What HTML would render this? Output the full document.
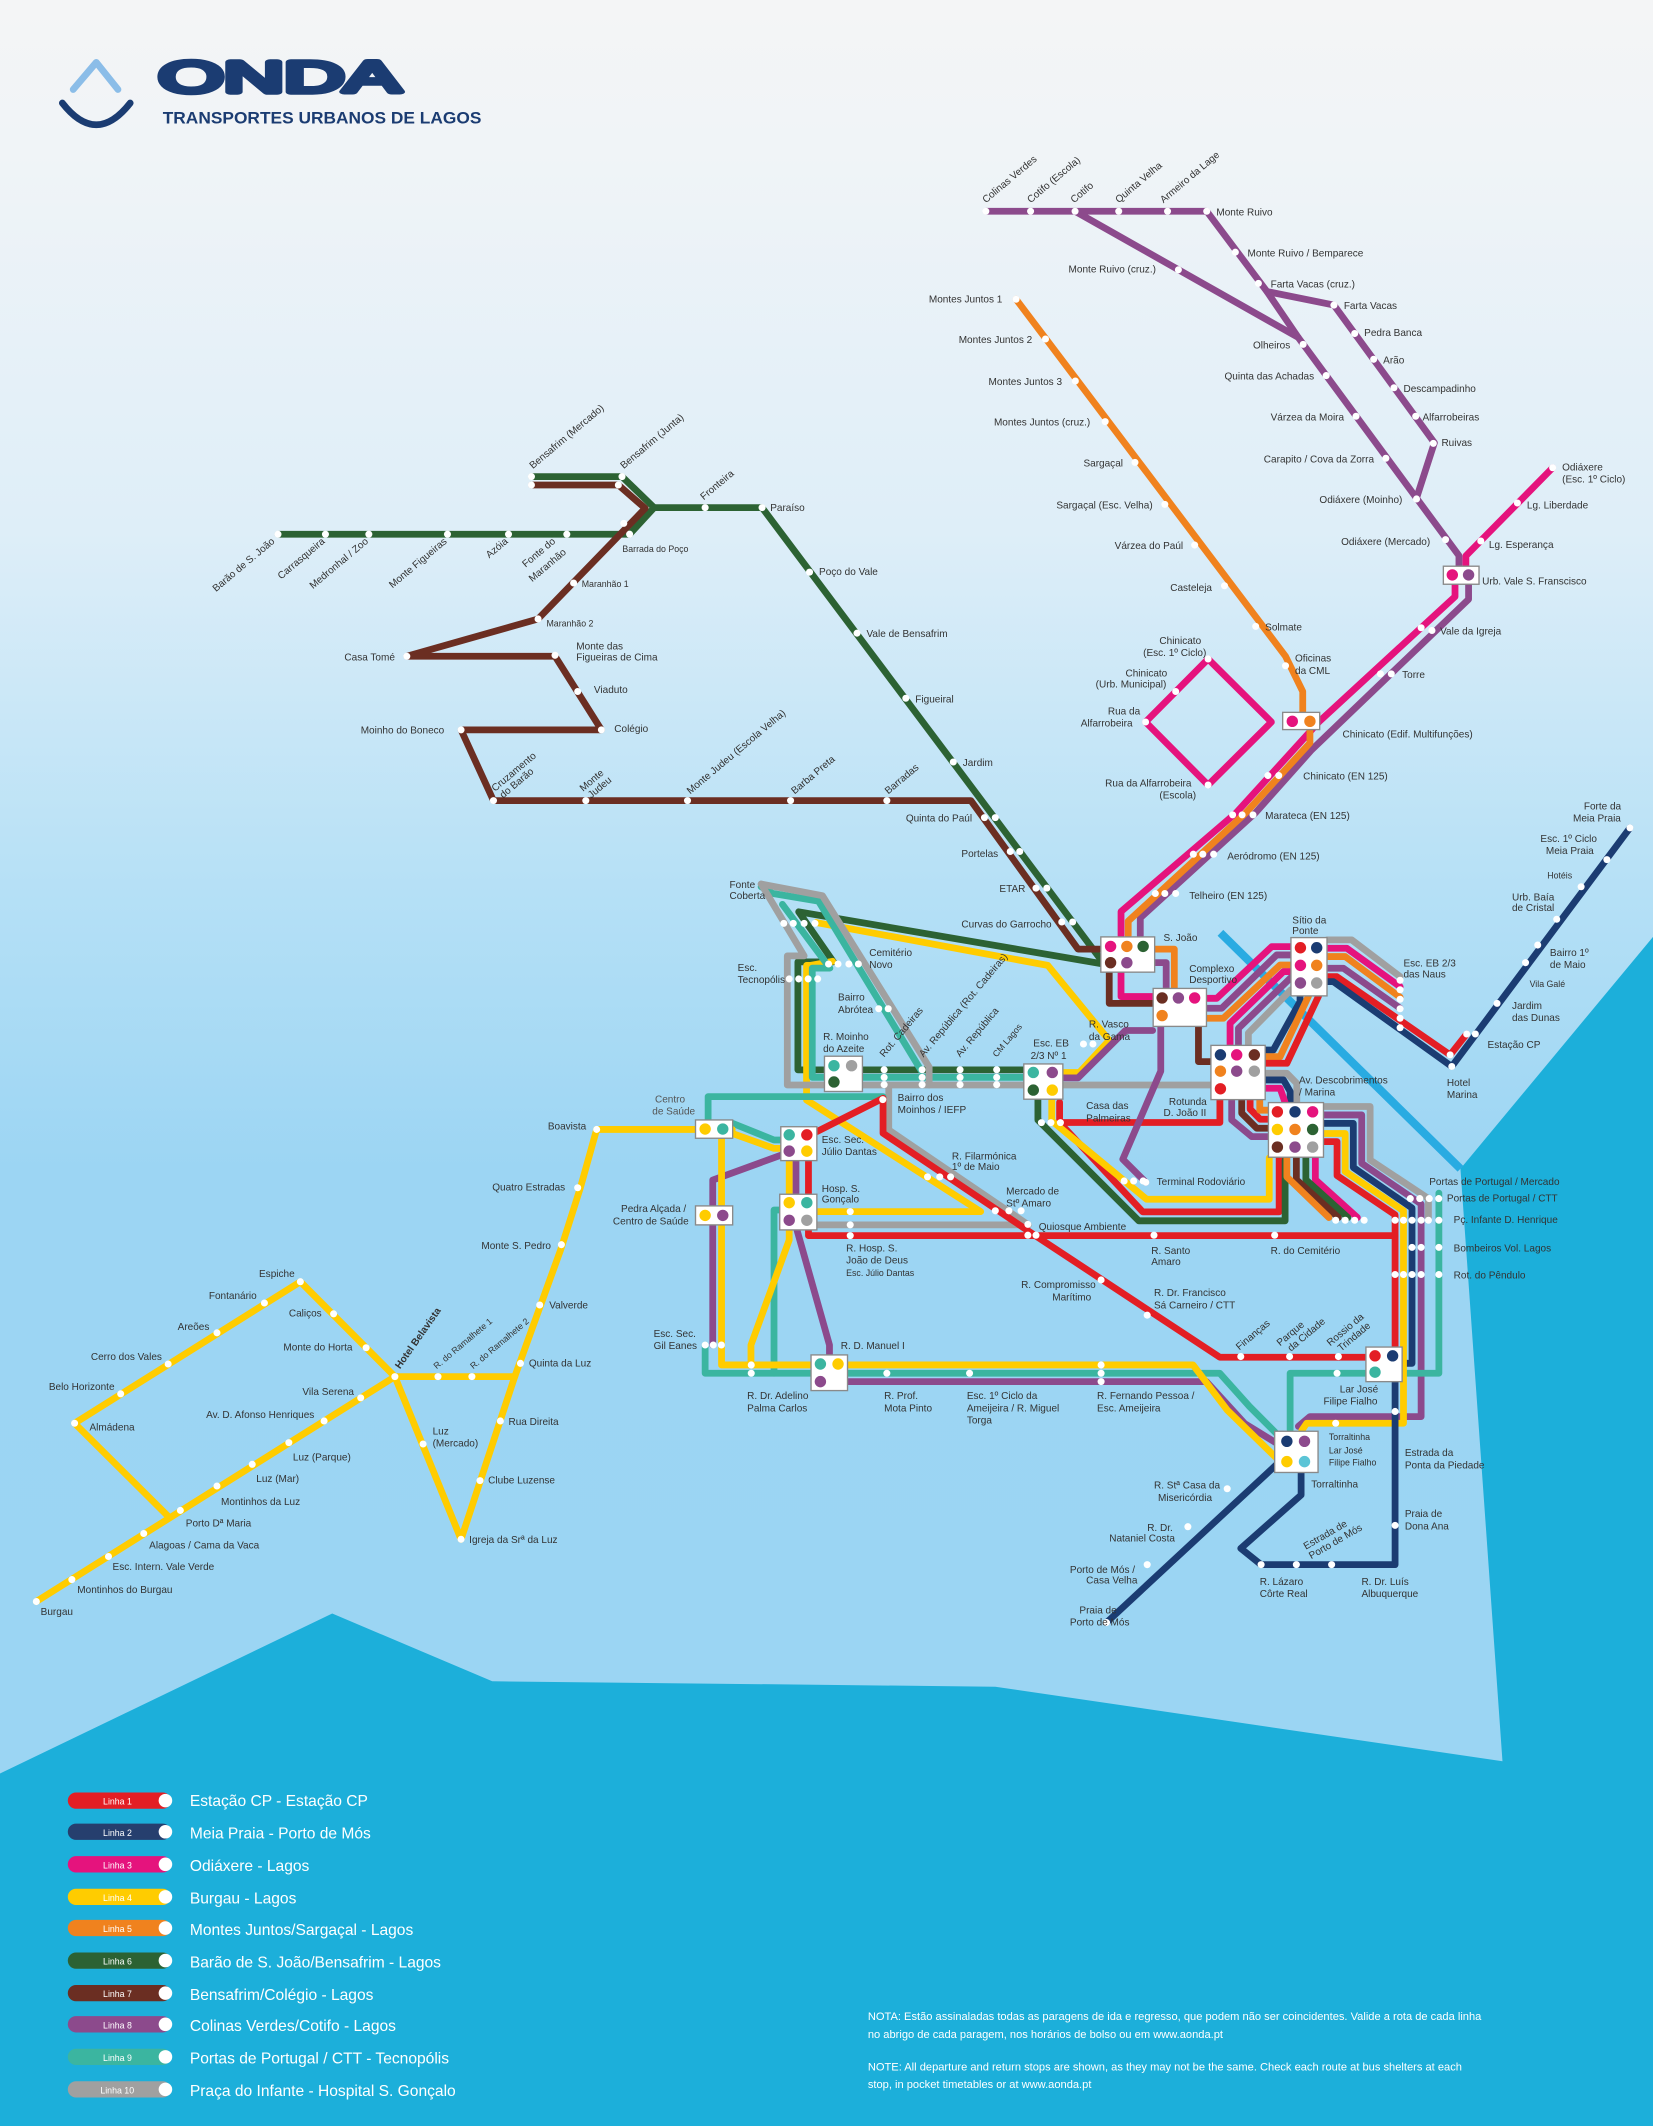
<!DOCTYPE html>
<html><head><meta charset="utf-8"><style>
html,body{margin:0;padding:0;width:1653px;height:2126px;overflow:hidden;}
svg{display:block}
.s{fill:none;stroke-width:5;stroke-linejoin:round;stroke-linecap:round}
.r{stroke:#e31e24}.n{stroke:#1b3c72}.m{stroke:#e5137d}.y{stroke:#ffcc00}.o{stroke:#f0821e}
.g{stroke:#2c6233}.b{stroke:#6b2e22}.p{stroke:#8c4a8c}.t{stroke:#3bb5a0}.e{stroke:#a0a0a0}
text{font-family:"Liberation Sans",sans-serif;font-size:7.4px;fill:#333}
.lg{font-size:11.5px;fill:#fff}
.nt{font-size:8.2px;fill:#fff}
.pl{font-size:6.5px;fill:#fff}
.dot{fill:#fff}
.bx{fill:#fff;stroke:#8a8a8a;stroke-width:1}
</style></head><body>
<svg width="1653" height="2126" viewBox="0 0 1219 1568" preserveAspectRatio="none" xmlns="http://www.w3.org/2000/svg">
<defs>
<linearGradient id="bg" x1="0" y1="0" x2="0" y2="1">
<stop offset="0" stop-color="#f4f5f6"/>
<stop offset="0.07" stop-color="#f0f4f7"/>
<stop offset="0.25" stop-color="#deeef8"/>
<stop offset="0.42" stop-color="#b5e0f6"/>
<stop offset="0.55" stop-color="#9cd5f3"/>
<stop offset="1" stop-color="#9ad5f3"/>
</linearGradient>
</defs>
<rect width="1219" height="1568" fill="url(#bg)"/>
<!-- sea -->
<polygon points="0,1308 245,1190 363,1240 734,1244 1108,1299 1077,862 1219,691 1219,1568 0,1568" fill="#1cafda"/>
<line x1="900" y1="688" x2="1077" y2="862" stroke="#29abe2" stroke-width="6"/>

<!-- logo -->
<path d="M54,66 L71,46 L87,66" fill="none" stroke="#8bbde8" stroke-width="5" stroke-linecap="round" stroke-linejoin="round"/>
<path d="M46,76 Q71,108 96,76" fill="none" stroke="#1b3c72" stroke-width="5" stroke-linecap="round"/>
<text x="117" y="68" textLength="178" lengthAdjust="spacingAndGlyphs" style="font-size:32px;fill:none;stroke:#1b3c72;stroke-width:4;stroke-linejoin:round">ONDA</text>
<text x="120" y="91" textLength="235" lengthAdjust="spacingAndGlyphs" style="font-size:12.5px;fill:#1b3c72;font-weight:bold">TRANSPORTES URBANOS DE LAGOS</text>

<!-- LINE 8 purple top -->
<path class="s p" d="M727,155.8 H889.9 L934.3,215 L957.4,248.9 L1044.6,367.4 L1075.9,409.8 V420"/>
<path class="s p" d="M792.8,155.8 L957.4,248.9"/>
<path class="s p" d="M934.3,215 L983.7,225 L1057.8,326.5 L1044.6,367.4"/>
<path class="s m" d="M1145,345 L1081,410 V420"/>
<path class="s o" d="M749.3,220.7 L948,484 L960.7,510 V526"/>
<path class="s m" d="M890.9,486 L844.8,532.5 L890.9,579 L937.6,532.5 Z"/>
<path class="s m" d="M1073,431 V440 L973,532 L911.7,599.4 L826.7,672.3 V690"/>
<path class="s p" d="M1083,431 V442 L967.3,553 L925.9,599.4 L840.9,677 V690"/>
<path class="s o" d="M966,539 V548 L918.8,599.4 L832,679.4 V690"/>

<path class="s g" d="M205,394 H464.3 L482.4,374.4 H562 L812,708"/>
<path class="s g" d="M391.9,351.5 H458.7 L482.4,374.4"/>
<path class="s b" d="M391.9,357.7 H456 L475.8,374.9 L396.8,456.5 L300,484 H409.3 L443.5,538.3 H340 L363.9,590.5 H716 L795,700 L812,700"/>

<path class="s g" d="M812,710.7 L589,672.5 L614.6,709.4 H588.4 V789.1 H755"/>
<path class="s y" d="M602,680.4 L772.7,712 L818,767.3 L796,791 H784"/>
<path class="s y" d="M614,709 L598,712 H594.8 V811.3 L723.2,893.6 H603.2"/>
<path class="s t" d="M561.3,654 L570,659 L603.6,664.6 L679.4,789.7"/>
<path class="s t" d="M577,667 L612,714 H599 V794.6 H755"/>
<path class="s e" d="M561.3,652 L606.5,660.6 L685.2,787 V800.2"/>
<path class="s e" d="M561.3,652 L593,705 H580.6 V800.2 H893"/>
<path class="s e" d="M655.4,800.2 V833.4 L758.4,903.4 H602.4"/>
<path class="s t" d="M522.2,826 V808.8 H651.2"/>
<path class="s t" d="M540.3,828.5 L570.8,840.8 H577"/>
<path class="s t" d="M576,892.4 H570.8 V1012.8"/>
<path class="s t" d="M520,991.9 V1012.8 H899.5 L921.4,1037.3 L944,1060"/>
<path class="s p" d="M576.4,851.8 L525.6,870.3 V992"/>
<path class="s p" d="M587.7,907 L611.7,992 V999"/>
<path class="s p" d="M624.4,1019 H889.7 L918,1050 L944,1066"/>
<path class="s p" d="M587,855 V880"/>
<path class="s y" d="M540,833 H440 L428,876 L413.4,921.9 L379.6,1015.3 H291.2"/>
<path class="s y" d="M540.3,836 L570.8,847 H577"/>
<path class="s y" d="M532.1,839.5 V1006.7 H879.8 L905,1040 L944,1078"/>
<path class="s y" d="M582,907 V914.5 L553.8,992 V1006.7"/>
<path class="s y" d="M582,856 V880"/>
<path class="s y" d="M26.8,1181.2 L291.2,1015.3 L221.5,945.3 L55,1049.7 L124.2,1118.5"/>
<path class="s y" d="M291.2,1015.3 L340,1135.3 L379.6,1015.3"/>
<path class="s r" d="M602.4,834.6 L651.2,810 V835.8 L762.7,910.8 L899.5,1001 H1008"/>
<path class="s r" d="M596.2,856 V911.3 H1028.8 V1000"/>
<path class="s r" d="M899.6,811 V827.9 H781.4 V813 M781.4,827.9 L842.7,893.8 H943.3 V853"/>
<path class="s y" d="M775.6,810 V826.6 L845.6,884.5 H936 V854"/>
<path class="s g" d="M765.4,810 V826 L839.8,900.4 H947.7 V855.6"/>
<path class="s p" d="M783.8,795 H795 L830,760 H850"/>
<path class="s p" d="M856,757 V790 L828,855 L845,872"/>
<path class="s m" d="M826.7,717 V735 H851"/>
<path class="s b" d="M818,717 V740 H851"/>
<path class="s o" d="M851,700 H866 V729"/>
<path class="s p" d="M851,710 H860 V729"/>
<path class="s b" d="M883.8,757.2 V783 H893"/>
<path class="s m" d="M890,736.3 H897.3 L937.8,698.2 H952"/>
<path class="s p" d="M890,743.6 H901 L941.5,704.3 H952"/>
<path class="s o" d="M890,751 H902.2 L944,711.7 H952"/>
<path class="s m" d="M907.1,770.7 V754.7 L946.5,716.6 H952"/>
<path class="s p" d="M913.3,770.7 V758.4 L952,721"/>
<path class="s e" d="M920.6,770.7 V762 L952,730"/>
<path class="s n" d="M933.2,774.4 H939 L958.7,738.7 V734"/>
<path class="s o" d="M933.2,779.3 H944 L964.9,734.8"/>
<path class="s r" d="M933.2,784.2 H949 L972.3,734.8"/>
<path class="s e" d="M978.7,693.2 H996.8 L1032.5,720.3"/>
<path class="s m" d="M978.7,699.4 H993.2 L1032.5,727.7"/>
<path class="s o" d="M978.7,705.5 H992 L1032.5,735.5"/>
<path class="s p" d="M978.7,714.1 H990.7 L1032.5,743.6"/>
<path class="s r" d="M978.7,720.3 H985.8 L1069.4,778 L1081.6,762.6"/>
<path class="s n" d="M978.7,724 H983.3 L1070.6,786.6 L1202,610.6"/>
<path class="s e" d="M933.2,791.6 H949 L956.3,799 V813.2"/>
<path class="s n" d="M933.2,796.5 H946.5 L951.4,805 V813.2"/>
<path class="s m" d="M933.2,802.6 H944 L947.7,813.2"/>
<path class="s p" d="M908.3,811.2 V826 L923.1,838.3 H935.4"/>
<path class="s b" d="M915.7,811.2 V821 L926.8,832.1 H935.4"/>
<path class="s r" d="M921.9,811.2 V818 L929.3,825.5 H935.4"/>
<path class="s o" d="M929,811.2 V818.8 H935.4"/>
<path class="s e" d="M976,816.1 H1010.4 V855.5 L1053.4,884 V900"/>
<path class="s p" d="M976,822.3 H1004.2 V858 L1048,888 V1044.8 H966 L957.5,1052"/>
<path class="s n" d="M976,828.5 H998 V861 L1041.3,891 V1005.5 H1033"/>
<path class="s t" d="M1061.1,880 V1012.8 H951.4 V1054.6"/>
<path class="s y" d="M976,836 H992 V864 L1035,893 V1049.7 H963.6 L960,1055"/>
<path class="s r" d="M976,842 H986 V867 L1028.8,896 V912"/>
<path class="s m" d="M970,853 V870 L1001,898"/>
<path class="s g" d="M963,853 V870 L994,898"/>
<path class="s b" d="M956,853 V870 L987,898"/>
<path class="s o" d="M949,853 V868 L980,898"/>
<path class="s n" d="M1028.8,1019 V1154 H930 L915,1142 L959.5,1102.6 V1086"/>
<path class="s n" d="M945,1076.8 L816,1196.7"/>

<g>
<rect class="bx" x="811.8" y="691" width="39.7" height="26"/>
<circle cx="819" cy="698" r="4.2" fill="#e5137d"/><circle cx="831" cy="698" r="4.2" fill="#f0821e"/><circle cx="843" cy="698" r="4.2" fill="#2c6233"/>
<circle cx="819" cy="710" r="4.2" fill="#6b2e22"/><circle cx="831" cy="710" r="4.2" fill="#8c4a8c"/>
<rect class="bx" x="850.4" y="729" width="39.3" height="28"/>
<circle cx="857" cy="736" r="4.2" fill="#6b2e22"/><circle cx="869" cy="736" r="4.2" fill="#8c4a8c"/><circle cx="881" cy="736" r="4.2" fill="#e5137d"/>
<circle cx="857" cy="749" r="4.2" fill="#f0821e"/>
<rect class="bx" x="893" y="771" width="40" height="40"/>
<circle cx="900" cy="778" r="4.2" fill="#1b3c72"/><circle cx="912" cy="778" r="4.2" fill="#e5137d"/><circle cx="925" cy="778" r="4.2" fill="#6b2e22"/>
<circle cx="900" cy="790" r="4.2" fill="#f0821e"/><circle cx="912" cy="790" r="4.2" fill="#8c4a8c"/><circle cx="925" cy="790" r="4.2" fill="#a0a0a0"/>
<circle cx="900" cy="803" r="4.2" fill="#e31e24"/>
<rect class="bx" x="952" y="691.5" width="26.6" height="43"/>
<circle cx="959" cy="699" r="4.2" fill="#e31e24"/><circle cx="971" cy="699" r="4.2" fill="#1b3c72"/>
<circle cx="959" cy="712" r="4.2" fill="#e5137d"/><circle cx="971" cy="712" r="4.2" fill="#f0821e"/>
<circle cx="959" cy="725" r="4.2" fill="#8c4a8c"/><circle cx="971" cy="725" r="4.2" fill="#a0a0a0"/>
<rect class="bx" x="935.4" y="813.2" width="40.6" height="40.3"/>
<circle cx="942" cy="820" r="4.2" fill="#e31e24"/><circle cx="955" cy="820" r="4.2" fill="#1b3c72"/><circle cx="968" cy="820" r="4.2" fill="#e5137d"/>
<circle cx="942" cy="833" r="4.2" fill="#ffcc00"/><circle cx="955" cy="833" r="4.2" fill="#f0821e"/><circle cx="968" cy="833" r="4.2" fill="#2c6233"/>
<circle cx="942" cy="846" r="4.2" fill="#6b2e22"/><circle cx="955" cy="846" r="4.2" fill="#8c4a8c"/><circle cx="968" cy="846" r="4.2" fill="#a0a0a0"/>
<rect class="bx" x="755" y="784.7" width="28.8" height="26"/>
<circle cx="762" cy="791" r="4.2" fill="#3bb5a0"/><circle cx="776" cy="791" r="4.2" fill="#8c4a8c"/>
<circle cx="762" cy="804" r="4.2" fill="#2c6233"/><circle cx="776" cy="804" r="4.2" fill="#ffcc00"/>
<rect class="bx" x="608" y="779" width="28" height="26"/>
<circle cx="615" cy="786" r="4.2" fill="#3bb5a0"/><circle cx="628" cy="786" r="4.2" fill="#a0a0a0"/>
<circle cx="615" cy="798" r="4.2" fill="#2c6233"/>
<rect class="bx" x="575.8" y="831" width="26.6" height="25"/>
<circle cx="582" cy="837" r="4.2" fill="#3bb5a0"/><circle cx="595" cy="837" r="4.2" fill="#e31e24"/>
<circle cx="582" cy="849" r="4.2" fill="#8c4a8c"/><circle cx="595" cy="849" r="4.2" fill="#ffcc00"/>
<rect class="bx" x="575" y="880.8" width="27.4" height="26.3"/>
<circle cx="582" cy="887" r="4.2" fill="#ffcc00"/><circle cx="595" cy="887" r="4.2" fill="#3bb5a0"/>
<circle cx="582" cy="900" r="4.2" fill="#8c4a8c"/><circle cx="595" cy="900" r="4.2" fill="#a0a0a0"/>
<rect class="bx" x="512.9" y="826" width="27.4" height="13.5"/>
<circle cx="520" cy="832.7" r="4.2" fill="#ffcc00"/><circle cx="533" cy="832.7" r="4.2" fill="#3bb5a0"/>
<rect class="bx" x="512.9" y="889.4" width="27.4" height="14"/>
<circle cx="520" cy="896.4" r="4.2" fill="#ffcc00"/><circle cx="533" cy="896.4" r="4.2" fill="#8c4a8c"/>
<rect class="bx" x="598.1" y="999.3" width="26.9" height="26.3"/>
<circle cx="605" cy="1006" r="4.2" fill="#3bb5a0"/><circle cx="618" cy="1006" r="4.2" fill="#ffcc00"/>
<circle cx="605" cy="1019" r="4.2" fill="#8c4a8c"/>
<rect class="bx" x="940" y="1055.6" width="32" height="30.4"/>
<circle cx="949" cy="1063" r="4.2" fill="#1b3c72"/><circle cx="962" cy="1063" r="4.2" fill="#8c4a8c"/>
<circle cx="949" cy="1078" r="4.2" fill="#ffcc00"/><circle cx="962" cy="1078" r="4.2" fill="#5bc4d6"/>
<rect class="bx" x="1007.3" y="993.5" width="26.7" height="25.5"/>
<circle cx="1014" cy="1000" r="4.2" fill="#e31e24"/><circle cx="1027" cy="1000" r="4.2" fill="#1b3c72"/>
<circle cx="1014" cy="1012" r="4.2" fill="#3bb5a0"/>
<rect class="bx" x="1064.4" y="417.6" width="26.3" height="13.3"/>
<circle cx="1071" cy="424" r="4.2" fill="#e5137d"/><circle cx="1083" cy="424" r="4.2" fill="#8c4a8c"/>
<rect class="bx" x="945.9" y="525.4" width="27.3" height="12.7"/>
<circle cx="953" cy="532" r="4.2" fill="#e5137d"/><circle cx="966" cy="532" r="4.2" fill="#f0821e"/>
</g>

<g class="dot">
<circle cx="727" cy="155.8" r="2.6"/><circle cx="760" cy="155.8" r="2.6"/><circle cx="792.8" cy="155.8" r="2.6"/><circle cx="825" cy="155.8" r="2.6"/><circle cx="861" cy="155.8" r="2.6"/><circle cx="889.9" cy="155.8" r="2.6"/>
<circle cx="911" cy="186" r="2.6"/><circle cx="928" cy="209" r="2.6"/><circle cx="983.7" cy="225" r="2.6"/><circle cx="999" cy="246" r="2.6"/><circle cx="1013" cy="265" r="2.6"/><circle cx="1028" cy="286" r="2.6"/><circle cx="1044" cy="307" r="2.6"/><circle cx="1057" cy="327" r="2.6"/>
<circle cx="869" cy="199" r="2.6"/><circle cx="961" cy="254" r="2.6"/><circle cx="978" cy="277" r="2.6"/><circle cx="1000" cy="307" r="2.6"/><circle cx="1022" cy="338" r="2.6"/><circle cx="1044.6" cy="368" r="2.6"/><circle cx="1066" cy="398" r="2.6"/>
<circle cx="1145" cy="345" r="2.6"/><circle cx="1119" cy="371" r="2.6"/><circle cx="1092" cy="399" r="2.6"/>
<circle cx="749.3" cy="220.7" r="2.6"/><circle cx="771" cy="250" r="2.6"/><circle cx="793" cy="281" r="2.6"/><circle cx="815" cy="311" r="2.6"/><circle cx="837" cy="341" r="2.6"/><circle cx="859" cy="372" r="2.6"/><circle cx="881" cy="402" r="2.6"/><circle cx="903" cy="432" r="2.6"/><circle cx="926" cy="462" r="2.6"/><circle cx="948" cy="491" r="2.6"/>
<circle cx="890.9" cy="486" r="2.6"/><circle cx="867" cy="510" r="2.6"/><circle cx="844.8" cy="532.5" r="2.6"/><circle cx="890.9" cy="579" r="2.6"/>
<circle cx="1048" cy="463" r="2.6"/><circle cx="1056" cy="465" r="2.6"/><circle cx="1018" cy="497" r="2.6"/><circle cx="1026" cy="497" r="2.6"/><circle cx="935" cy="572" r="2.6"/><circle cx="943" cy="572" r="2.6"/><circle cx="909" cy="601" r="2.6"/><circle cx="916" cy="601" r="2.6"/><circle cx="924" cy="601" r="2.6"/><circle cx="880" cy="630" r="2.6"/><circle cx="887" cy="630" r="2.6"/><circle cx="895" cy="630" r="2.6"/><circle cx="852" cy="659" r="2.6"/><circle cx="859" cy="659" r="2.6"/><circle cx="867" cy="659" r="2.6"/>
<circle cx="205" cy="394" r="2.6"/><circle cx="240" cy="394" r="2.6"/><circle cx="272" cy="394" r="2.6"/><circle cx="330" cy="394" r="2.6"/><circle cx="375" cy="394" r="2.6"/><circle cx="418" cy="394" r="2.6"/><circle cx="464.3" cy="394" r="2.6"/>
<circle cx="391.9" cy="351.5" r="2.6"/><circle cx="391.9" cy="357.7" r="2.6"/><circle cx="458.7" cy="351.5" r="2.6"/><circle cx="456" cy="357.7" r="2.6"/><circle cx="460" cy="386" r="2.6"/>
<circle cx="520" cy="374.4" r="2.6"/><circle cx="562" cy="374.4" r="2.6"/><circle cx="597" cy="422" r="2.6"/><circle cx="632" cy="467" r="2.6"/><circle cx="668" cy="515" r="2.6"/><circle cx="703" cy="562" r="2.6"/>
<circle cx="423" cy="430" r="2.6"/><circle cx="396.8" cy="456.5" r="2.6"/><circle cx="300" cy="484" r="2.6"/><circle cx="409.3" cy="483.3" r="2.6"/><circle cx="426" cy="510" r="2.6"/><circle cx="443.5" cy="538.3" r="2.6"/><circle cx="340" cy="538.3" r="2.6"/>
<circle cx="363.9" cy="590.5" r="2.6"/><circle cx="432" cy="590.5" r="2.6"/><circle cx="507" cy="590.5" r="2.6"/><circle cx="583" cy="590.5" r="2.6"/><circle cx="654" cy="590.5" r="2.6"/>
<circle cx="726" cy="603" r="2.6"/><circle cx="734" cy="603" r="2.6"/><circle cx="745" cy="628" r="2.6"/><circle cx="752" cy="628" r="2.6"/><circle cx="764" cy="655" r="2.6"/><circle cx="772" cy="655" r="2.6"/><circle cx="783" cy="680" r="2.6"/><circle cx="791" cy="680" r="2.6"/>
<circle cx="578" cy="681" r="2.6"/><circle cx="585" cy="681" r="2.6"/><circle cx="593" cy="681" r="2.6"/><circle cx="601" cy="681" r="2.6"/>
<circle cx="611" cy="711" r="2.6"/><circle cx="618" cy="711" r="2.6"/><circle cx="626" cy="711" r="2.6"/><circle cx="633" cy="711" r="2.6"/>
<circle cx="582" cy="722" r="2.6"/><circle cx="589" cy="722" r="2.6"/><circle cx="596" cy="722" r="2.6"/><circle cx="603" cy="722" r="2.6"/>
<circle cx="648" cy="744" r="2.6"/><circle cx="655" cy="744" r="2.6"/>
<circle cx="652" cy="789" r="2.6"/><circle cx="652" cy="794.6" r="2.6"/><circle cx="652" cy="800" r="2.6"/><circle cx="680" cy="789" r="2.6"/><circle cx="680" cy="794.6" r="2.6"/><circle cx="680" cy="800" r="2.6"/><circle cx="708" cy="789" r="2.6"/><circle cx="708" cy="794.6" r="2.6"/><circle cx="708" cy="800" r="2.6"/><circle cx="735" cy="789" r="2.6"/><circle cx="735" cy="794.6" r="2.6"/><circle cx="735" cy="800" r="2.6"/>
<circle cx="651" cy="811" r="2.6"/><circle cx="799" cy="770" r="2.6"/><circle cx="806" cy="770" r="2.6"/>
<circle cx="768" cy="828" r="2.6"/><circle cx="775" cy="828" r="2.6"/><circle cx="782" cy="828" r="2.6"/><circle cx="829" cy="871" r="2.6"/><circle cx="836" cy="871" r="2.6"/><circle cx="843" cy="871" r="2.6"/><circle cx="845" cy="872" r="2.6"/>
<circle cx="684" cy="868" r="2.6"/><circle cx="693" cy="868" r="2.6"/><circle cx="701" cy="868" r="2.6"/><circle cx="734" cy="893" r="2.6"/><circle cx="744" cy="893" r="2.6"/><circle cx="753" cy="893" r="2.6"/>
<circle cx="758" cy="903" r="2.6"/><circle cx="758" cy="911" r="2.6"/><circle cx="764" cy="911" r="2.6"/><circle cx="851" cy="911" r="2.6"/><circle cx="940" cy="911" r="2.6"/>
<circle cx="627" cy="893.6" r="2.6"/><circle cx="627" cy="903.4" r="2.6"/><circle cx="627" cy="911.3" r="2.6"/>
<circle cx="812" cy="944" r="2.6"/><circle cx="846" cy="970" r="2.6"/><circle cx="915" cy="1000.5" r="2.6"/><circle cx="951" cy="1000.5" r="2.6"/><circle cx="987" cy="1000.5" r="2.6"/>
<circle cx="520" cy="992" r="2.6"/><circle cx="526" cy="992" r="2.6"/><circle cx="532" cy="992" r="2.6"/>
<circle cx="554" cy="1006.7" r="2.6"/><circle cx="554" cy="1012.8" r="2.6"/><circle cx="654" cy="1012.8" r="2.6"/><circle cx="715" cy="1012.8" r="2.6"/><circle cx="812" cy="1006.7" r="2.6"/><circle cx="812" cy="1012.8" r="2.6"/><circle cx="812" cy="1019" r="2.6"/>
<circle cx="986" cy="1012.8" r="2.6"/><circle cx="985" cy="1049.7" r="2.6"/>
<circle cx="1028.8" cy="1041" r="2.6"/><circle cx="1028.8" cy="1125" r="2.6"/><circle cx="982" cy="1154" r="2.6"/><circle cx="956" cy="1154" r="2.6"/><circle cx="930" cy="1154" r="2.6"/>
<circle cx="905" cy="1098" r="2.6"/><circle cx="876" cy="1126" r="2.6"/><circle cx="846" cy="1154" r="2.6"/><circle cx="816" cy="1196.7" r="2.6"/>
<circle cx="1040" cy="884" r="2.6"/><circle cx="1047" cy="884" r="2.6"/><circle cx="1054" cy="884" r="2.6"/><circle cx="1061" cy="884" r="2.6"/>
<circle cx="985" cy="900" r="2.6"/><circle cx="992" cy="900" r="2.6"/><circle cx="999" cy="900" r="2.6"/><circle cx="1006" cy="900" r="2.6"/><circle cx="1028.8" cy="900" r="2.6"/><circle cx="1035" cy="900" r="2.6"/><circle cx="1041.3" cy="900" r="2.6"/><circle cx="1048" cy="900" r="2.6"/><circle cx="1053.4" cy="900" r="2.6"/><circle cx="1061.1" cy="900" r="2.6"/>
<circle cx="1041.3" cy="920" r="2.6"/><circle cx="1048" cy="920" r="2.6"/><circle cx="1061.1" cy="920" r="2.6"/>
<circle cx="1028.8" cy="940" r="2.6"/><circle cx="1035" cy="940" r="2.6"/><circle cx="1041.3" cy="940" r="2.6"/><circle cx="1048" cy="940" r="2.6"/><circle cx="1061.1" cy="940" r="2.6"/>
<circle cx="1032.5" cy="723" r="2.6"/><circle cx="1032.5" cy="730" r="2.6"/><circle cx="1032.5" cy="737" r="2.6"/><circle cx="1032.5" cy="744" r="2.6"/><circle cx="1032.5" cy="751" r="2.6"/><circle cx="1032.5" cy="758" r="2.6"/>
<circle cx="1069.4" cy="778" r="2.6"/><circle cx="1070.6" cy="786.6" r="2.6"/><circle cx="1081.6" cy="762.6" r="2.6"/><circle cx="1088" cy="762.6" r="2.6"/>
<circle cx="1104" cy="740" r="2.6"/><circle cx="1125" cy="710" r="2.6"/><circle cx="1148" cy="678" r="2.6"/><circle cx="1166" cy="654" r="2.6"/><circle cx="1185" cy="634" r="2.6"/><circle cx="1202" cy="610.6" r="2.6"/><circle cx="1134" cy="697" r="2.6"/>
<circle cx="26.8" cy="1181.2" r="2.6"/><circle cx="53" cy="1165" r="2.6"/><circle cx="80" cy="1148" r="2.6"/><circle cx="106" cy="1131" r="2.6"/><circle cx="133" cy="1114" r="2.6"/><circle cx="160" cy="1096" r="2.6"/><circle cx="186" cy="1080" r="2.6"/><circle cx="213" cy="1064" r="2.6"/><circle cx="239" cy="1048" r="2.6"/><circle cx="266" cy="1031" r="2.6"/><circle cx="291.2" cy="1015.3" r="2.6"/>
<circle cx="221.5" cy="945.3" r="2.6"/><circle cx="195" cy="961" r="2.6"/><circle cx="160" cy="983" r="2.6"/><circle cx="124" cy="1006" r="2.6"/><circle cx="89" cy="1028" r="2.6"/><circle cx="55" cy="1049.7" r="2.6"/>
<circle cx="246" cy="969" r="2.6"/><circle cx="270" cy="994" r="2.6"/><circle cx="323" cy="1015.3" r="2.6"/><circle cx="348" cy="1015.3" r="2.6"/><circle cx="383.8" cy="1005.5" r="2.6"/><circle cx="398" cy="962.5" r="2.6"/><circle cx="414" cy="918" r="2.6"/><circle cx="426" cy="876" r="2.6"/><circle cx="440" cy="833" r="2.6"/>
<circle cx="312" cy="1065" r="2.6"/><circle cx="340" cy="1135.3" r="2.6"/><circle cx="354" cy="1092" r="2.6"/><circle cx="369" cy="1048" r="2.6"/>
</g>

<g>
<text transform="translate(727,150) rotate(-40)">Colinas Verdes</text>
<text transform="translate(760,150) rotate(-40)">Cotifo (Escola)</text>
<text transform="translate(792,150) rotate(-40)">Cotifo</text>
<text transform="translate(825,150) rotate(-40)">Quinta Velha</text>
<text transform="translate(858,150) rotate(-40)">Armeiro da Lage</text>
<text x="897" y="159">Monte Ruivo</text>
<text x="920" y="189">Monte Ruivo / Bemparece</text>
<text x="937" y="212">Farta Vacas (cruz.)</text>
<text x="991" y="228">Farta Vacas</text>
<text x="1006" y="248">Pedra Banca</text>
<text x="1020" y="268">Arão</text>
<text x="1035" y="289">Descampadinho</text>
<text x="1049" y="310">Alfarrobeiras</text>
<text x="1063" y="329">Ruivas</text>
<text x="788" y="201">Monte Ruivo (cruz.)</text>
<text x="924" y="257">Olheiros</text>
<text x="903" y="280">Quinta das Achadas</text>
<text x="937" y="310">Várzea da Moira</text>
<text x="932" y="341">Carapito / Cova da Zorra</text>
<text x="973" y="371">Odiáxere (Moinho)</text>
<text x="989" y="402">Odiáxere (Mercado)</text>
<text x="1152" y="347">Odiáxere</text><text x="1152" y="356">(Esc. 1º Ciclo)</text>
<text x="1126" y="375">Lg. Liberdade</text>
<text x="1098" y="404">Lg. Esperança</text>
<text x="1093" y="431">Urb. Vale S. Franscisco</text>
<text x="1062" y="468">Vale da Igreja</text>
<text x="1034" y="500">Torre</text>
<text x="990" y="544">Chinicato (Edif. Multifunções)</text>
<text x="961" y="575">Chinicato (EN 125)</text>
<text x="933" y="604">Marateca (EN 125)</text>
<text x="905" y="634">Aeródromo (EN 125)</text>
<text x="877" y="663">Telheiro (EN 125)</text>
<text x="685" y="223">Montes Juntos 1</text>
<text x="707" y="253">Montes Juntos 2</text>
<text x="729" y="284">Montes Juntos 3</text>
<text x="733" y="314">Montes Juntos (cruz.)</text>
<text x="799" y="344">Sargaçal</text>
<text x="779" y="375">Sargaçal (Esc. Velha)</text>
<text x="822" y="405">Várzea do Paúl</text>
<text x="863" y="436">Casteleja</text>
<text x="933" y="465">Solmate</text>
<text x="955" y="488">Oficinas</text><text x="955" y="497">da CML</text>
<text x="855" y="475">Chinicato</text><text x="843" y="484">(Esc. 1º Ciclo)</text>
<text x="830" y="499">Chinicato</text><text x="808" y="507">(Urb. Municipal)</text>
<text x="817" y="527">Rua da</text><text x="797" y="536">Alfarrobeira</text>
<text x="815" y="580">Rua da Alfarrobeira</text><text x="855" y="589">(Escola)</text>
<text transform="translate(203,400) rotate(-40)" text-anchor="end">Barão de S. João</text>
<text transform="translate(240,400) rotate(-40)" text-anchor="end">Carrasqueira</text>
<text transform="translate(272,400) rotate(-40)" text-anchor="end">Medronhal / Zoo</text>
<text transform="translate(330,400) rotate(-40)" text-anchor="end">Monte Figueiras</text>
<text transform="translate(375,400) rotate(-40)" text-anchor="end">Azóia</text>
<text transform="translate(410,400) rotate(-40)" text-anchor="end">Fonte do</text>
<text transform="translate(418,408) rotate(-40)" text-anchor="end">Maranhão</text>
<text transform="translate(393,346) rotate(-40)">Bensafrim (Mercado)</text>
<text transform="translate(460,346) rotate(-40)">Bensafrim (Junta)</text>
<text transform="translate(519,369) rotate(-40)">Fronteira</text>
<text x="568" y="377">Paraíso</text>
<text x="459" y="407" style="font-size:6.5px">Barrada do Poço</text>
<text x="429" y="433" style="font-size:6.5px">Maranhão 1</text>
<text x="403" y="462" style="font-size:6.5px">Maranhão 2</text>
<text x="254" y="487">Casa Tomé</text>
<text x="425" y="479">Monte das</text><text x="425" y="487">Figueiras de Cima</text>
<text x="438" y="511">Viaduto</text>
<text x="453" y="540">Colégio</text>
<text x="266" y="541">Moinho do Boneco</text>
<text transform="translate(365,584) rotate(-40)">Cruzamento</text>
<text transform="translate(371,589) rotate(-40)">do Barão</text>
<text transform="translate(430,584) rotate(-40)">Monte</text>
<text transform="translate(436,589) rotate(-40)">Judeu</text>
<text transform="translate(509,586) rotate(-40)">Monte Judeu (Escola Velha)</text>
<text transform="translate(586,586) rotate(-40)">Barba Preta</text>
<text transform="translate(655,586) rotate(-40)">Barradas</text>
<text x="604" y="424">Poço do Vale</text>
<text x="639" y="470">Vale de Bensafrim</text>
<text x="675" y="518">Figueiral</text>
<text x="710" y="565">Jardim</text>
<text x="668" y="606">Quinta do Paúl</text>
<text x="709" y="632">Portelas</text>
<text x="737" y="658">ETAR</text>
<text x="709" y="684">Curvas do Garrocho</text>
<text x="538" y="655">Fonte</text><text x="538" y="663">Coberta</text>
<text x="641" y="705">Cemitério</text><text x="641" y="714">Novo</text>
<text x="544" y="716">Esc.</text><text x="544" y="725">Tecnopólis</text>
<text x="618" y="738">Bairro</text><text x="618" y="747">Abrótea</text>
<text x="607" y="767">R. Moinho</text><text x="607" y="776">do Azeite</text>
<text transform="translate(652,780) rotate(-50)">Rot. Cadeiras</text>
<text transform="translate(681,780) rotate(-50)">Av. República (Rot. Cadeiras)</text>
<text transform="translate(708,780) rotate(-50)">Av. República</text>
<text transform="translate(735,780) rotate(-50)" style="font-size:6.5px">CM Lagos</text>
<text x="762" y="772">Esc. EB</text><text x="760" y="781">2/3 Nº 1</text>
<text x="662" y="812">Bairro dos</text><text x="662" y="821">Moinhos / IEFP</text>
<text x="858" y="694">S. João</text>
<text x="877" y="717">Complexo</text><text x="877" y="725">Desportivo</text>
<text x="803" y="758">R. Vasco</text><text x="803" y="767">da Gama</text>
<text x="953" y="681">Sítio da</text><text x="953" y="689">Ponte</text>
<text x="1035" y="713">Esc. EB 2/3</text><text x="1035" y="721">das Naus</text>
<text x="1067" y="801">Hotel</text><text x="1067" y="810">Marina</text>
<text x="1097" y="773">Estação CP</text>
<text x="1115" y="744">Jardim</text><text x="1115" y="753">das Dunas</text>
<text x="1128" y="728" style="font-size:6.5px">Vila Galé</text>
<text x="1143" y="705">Bairro 1º</text><text x="1143" y="714">de Maio</text>
<text x="1115" y="664">Urb. Baía</text><text x="1115" y="672">de Cristal</text>
<text x="1141" y="648" style="font-size:6.5px">Hotéis</text>
<text x="1136" y="621">Esc. 1º Ciclo</text><text x="1140" y="630">Meia Praia</text>
<text x="1168" y="597">Forte da</text><text x="1160" y="606">Meia Praia</text>
<text x="958" y="799">Av. Descobrimentos</text><text x="958" y="808">/ Marina</text>
<text x="862" y="815">Rotunda</text><text x="858" y="823">D. João II</text>
<text x="801" y="818">Casa das</text><text x="801" y="827">Palmeiras</text>
<text x="853" y="874">Terminal Rodoviário</text>
<text x="1054" y="874">Portas de Portugal / Mercado</text>
<text x="1067" y="886">Portas de Portugal / CTT</text>
<text x="1072" y="902">Pç. Infante D. Henrique</text>
<text x="1072" y="923">Bombeiros Vol. Lagos</text>
<text x="1072" y="943">Rot. do Pêndulo</text>
<text x="483" y="813" style="fill:#555">Centro</text><text x="481" y="822" style="fill:#555">de Saúde</text>
<text x="404" y="833">Boavista</text>
<text x="363" y="878">Quatro Estradas</text>
<text x="355" y="921">Monte S. Pedro</text>
<text x="606" y="843">Esc. Sec.</text><text x="606" y="852">Júlio Dantas</text>
<text x="606" y="879">Hosp. S.</text><text x="606" y="887">Gonçalo</text>
<text x="458" y="894">Pedra Alçada /</text><text x="452" y="903">Centro de Saúde</text>
<text x="702" y="855">R. Filarmónica</text><text x="702" y="863">1º de Maio</text>
<text x="742" y="881">Mercado de</text><text x="742" y="890">Stº Amaro</text>
<text x="766" y="907">Quiosque Ambiente</text>
<text x="624" y="923">R. Hosp. S.</text><text x="624" y="932">João de Deus</text><text x="624" y="941" style="font-size:6.5px">Esc. Júlio Dantas</text>
<text x="849" y="925">R. Santo</text><text x="849" y="933">Amaro</text>
<text x="937" y="925">R. do Cemitério</text>
<text x="753" y="950">R. Compromisso</text><text x="776" y="959">Marítimo</text>
<text x="851" y="956">R. Dr. Francisco</text><text x="851" y="965">Sá Carneiro / CTT</text>
<text transform="translate(914,996) rotate(-40)">Finanças</text>
<text transform="translate(944,993) rotate(-40)">Parque</text><text transform="translate(952,997) rotate(-40)">da Cidade</text>
<text transform="translate(981,993) rotate(-40)">Rossio da</text><text transform="translate(989,997) rotate(-40)">Trindade</text>
<text x="988" y="1027">Lar José</text><text x="976" y="1036">Filipe Fialho</text>
<text x="980" y="1062" style="font-size:6.5px">Torraltinha</text><text x="980" y="1072" style="font-size:6.5px">Lar José</text><text x="980" y="1081" style="font-size:6.5px">Filipe Fialho</text>
<text x="967" y="1097">Torraltinha</text>
<text x="1036" y="1074">Estrada da</text><text x="1036" y="1083">Ponta da Piedade</text>
<text x="1036" y="1119">Praia de</text><text x="1036" y="1128">Dona Ana</text>
<text transform="translate(963,1143) rotate(-30)">Estrada de</text><text transform="translate(967,1150) rotate(-30)">Porto de Mós</text>
<text x="929" y="1169">R. Lázaro</text><text x="929" y="1178">Côrte Real</text>
<text x="1004" y="1169">R. Dr. Luís</text><text x="1004" y="1178">Albuquerque</text>
<text x="851" y="1098">R. Stª Casa da</text><text x="854" y="1107">Misericórdia</text>
<text x="846" y="1129">R. Dr.</text><text x="818" y="1137">Nataniel Costa</text>
<text x="789" y="1160">Porto de Mós /</text><text x="801" y="1168">Casa Velha</text>
<text x="796" y="1190">Praia de</text><text x="789" y="1199">Porto de Mós</text>
<text x="482" y="986">Esc. Sec.</text><text x="482" y="995">Gil Eanes</text>
<text x="620" y="995">R. D. Manuel I</text>
<text x="551" y="1032">R. Dr. Adelino</text><text x="551" y="1041">Palma Carlos</text>
<text x="652" y="1032">R. Prof.</text><text x="652" y="1041">Mota Pinto</text>
<text x="713" y="1032">Esc. 1º Ciclo da</text><text x="713" y="1041">Ameijeira / R. Miguel</text><text x="713" y="1050">Torga</text>
<text x="809" y="1032">R. Fernando Pessoa /</text><text x="809" y="1041">Esc. Ameijeira</text>
<text x="191" y="942">Espiche</text>
<text x="154" y="958">Fontanário</text>
<text x="131" y="981">Areões</text>
<text x="67" y="1003">Cerro dos Vales</text>
<text x="36" y="1025">Belo Horizonte</text>
<text x="66" y="1055">Almádena</text>
<text x="213" y="971">Caliços</text>
<text x="209" y="996">Monte do Horta</text>
<text x="223" y="1029">Vila Serena</text>
<text x="152" y="1046">Av. D. Afonso Henriques</text>
<text x="216" y="1077">Luz (Parque)</text>
<text x="189" y="1093">Luz (Mar)</text>
<text x="163" y="1110">Montinhos da Luz</text>
<text x="137" y="1126">Porto Dª Maria</text>
<text x="110" y="1142">Alagoas / Cama da Vaca</text>
<text x="83" y="1158">Esc. Intern. Vale Verde</text>
<text x="57" y="1175">Montinhos do Burgau</text>
<text x="30" y="1191">Burgau</text>
<text transform="translate(295,1010) rotate(-55)" style="font-weight:bold">Hotel Belavista</text>
<text transform="translate(322,1010) rotate(-40)" style="font-size:6.5px">R. do Ramalhete 1</text>
<text transform="translate(349,1010) rotate(-40)" style="font-size:6.5px">R. do Ramalhete 2</text>
<text x="405" y="965">Valverde</text>
<text x="390" y="1008">Quinta da Luz</text>
<text x="375" y="1051">Rua Direita</text>
<text x="360" y="1094">Clube Luzense</text>
<text x="346" y="1138">Igreja da Srª da Luz</text>
<text x="319" y="1058">Luz</text><text x="319" y="1067">(Mercado)</text>
</g>

<g>
<rect x="50" y="1322" width="76" height="12" rx="6" fill="#e31e24"/><circle cx="122" cy="1328" r="5" fill="#fff"/><text class="pl" x="76" y="1331">Linha 1</text><text class="lg" x="140" y="1332">Estação  CP - Estação CP</text>
<rect x="50" y="1345" width="76" height="12" rx="6" fill="#263f6e"/><circle cx="122" cy="1351" r="5" fill="#fff"/><text class="pl" x="76" y="1354">Linha 2</text><text class="lg" x="140" y="1356">Meia Praia - Porto de Mós</text>
<rect x="50" y="1369" width="76" height="12" rx="6" fill="#e5137d"/><circle cx="122" cy="1375" r="5" fill="#fff"/><text class="pl" x="76" y="1378">Linha 3</text><text class="lg" x="140" y="1380">Odiáxere - Lagos</text>
<rect x="50" y="1393" width="76" height="12" rx="6" fill="#ffcc00"/><circle cx="122" cy="1399" r="5" fill="#fff"/><text class="pl" x="76" y="1402">Linha 4</text><text class="lg" x="140" y="1404">Burgau - Lagos</text>
<rect x="50" y="1416" width="76" height="12" rx="6" fill="#f0821e"/><circle cx="122" cy="1422" r="5" fill="#fff"/><text class="pl" x="76" y="1425">Linha 5</text><text class="lg" x="140" y="1427">Montes Juntos/Sargaçal - Lagos</text>
<rect x="50" y="1440" width="76" height="12" rx="6" fill="#2c6233"/><circle cx="122" cy="1446" r="5" fill="#fff"/><text class="pl" x="76" y="1449">Linha 6</text><text class="lg" x="140" y="1451">Barão de S. João/Bensafrim - Lagos</text>
<rect x="50" y="1464" width="76" height="12" rx="6" fill="#6b2e22"/><circle cx="122" cy="1470" r="5" fill="#fff"/><text class="pl" x="76" y="1473">Linha 7</text><text class="lg" x="140" y="1475">Bensafrim/Colégio - Lagos</text>
<rect x="50" y="1487" width="76" height="12" rx="6" fill="#8c4a8c"/><circle cx="122" cy="1493" r="5" fill="#fff"/><text class="pl" x="76" y="1496">Linha 8</text><text class="lg" x="140" y="1498">Colinas Verdes/Cotifo - Lagos</text>
<rect x="50" y="1511" width="76" height="12" rx="6" fill="#3bb5a0"/><circle cx="122" cy="1517" r="5" fill="#fff"/><text class="pl" x="76" y="1520">Linha 9</text><text class="lg" x="140" y="1522">Portas de Portugal / CTT - Tecnopólis</text>
<rect x="50" y="1535" width="76" height="12" rx="6" fill="#a0a0a0"/><circle cx="122" cy="1541" r="5" fill="#fff"/><text class="pl" x="74" y="1544">Linha 10</text><text class="lg" x="140" y="1546">Praça do Infante - Hospital S. Gonçalo</text>
<text class="nt" x="640" y="1490">NOTA: Estão assinaladas todas as paragens de ida e regresso, que podem não ser coincidentes. Valide a rota de cada linha</text>
<text class="nt" x="640" y="1503">no abrigo de cada paragem, nos horários de bolso ou em www.aonda.pt</text>
<text class="nt" x="640" y="1527">NOTE: All departure and return stops are shown, as they may not be the same. Check each route at bus shelters at each</text>
<text class="nt" x="640" y="1540">stop, in pocket timetables or at www.aonda.pt</text>
</g>
</svg>
</body></html>
